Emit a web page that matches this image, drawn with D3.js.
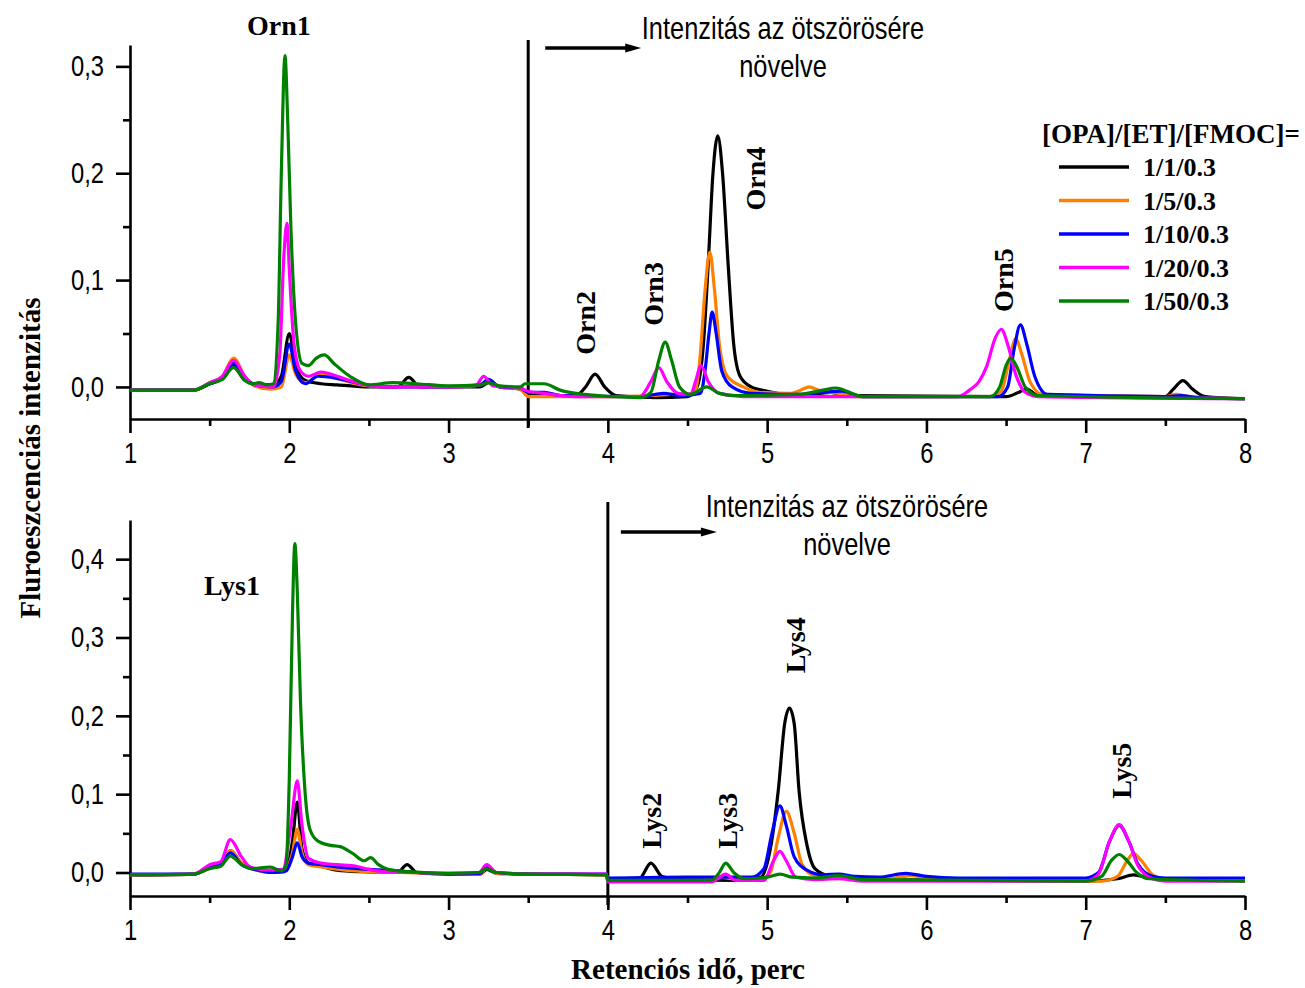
<!DOCTYPE html>
<html>
<head>
<meta charset="utf-8">
<script src="https://cdn.jsdelivr.net/npm/d3@7"></script>
<style>
  body { margin: 0; background: #fff; }
  svg { display: block; }
</style>
</head>
<body>
<script>
// series names and colours (legend order)
const seriesNames = ["1/1/0.3", "1/5/0.3", "1/10/0.3", "1/20/0.3", "1/50/0.3"];
const seriesColors = ["#000000", "#ff7f00", "#0000ff", "#ff00ff", "#008000"];

// x ticks and y ticks
const xTicks = [1, 2, 3, 4, 5, 6, 7, 8];
const xMinorTicks = [1.5, 2.5, 3.5, 4.5, 5.5, 6.5, 7.5];
const yTicksTop = [0, 0.1, 0.2, 0.3];
const yMinorTop = [0.05, 0.15, 0.25];
const yTicksBot = [0, 0.1, 0.2, 0.3, 0.4];
const yMinorBot = [0.05, 0.15, 0.25, 0.35];

// ---- Ornithine chromatograms (time, intensity) ----
const ornBlack = [[1.0,-0.003],[1.4,-0.003],[1.5,0.003],[1.58,0.008],[1.65,0.021],[1.72,0.008],[1.78,0.003],[1.9,0.002],[1.95,0.01],[2.0,0.05],[2.04,0.02],[2.1,0.006],[2.2,0.003],[2.3,0.002],[2.5,0.0],[2.68,0.0],[2.75,0.009],[2.82,0.0],[3.0,0.0],[3.2,0.0],[3.25,0.004],[3.32,0.0],[3.45,-0.002],[3.5,-0.008],[3.8,-0.008],[3.86,0.0],[3.92,0.012],[3.98,0.0],[4.05,-0.008],[4.3,-0.01],[4.5,-0.009],[4.56,0.0],[4.6,0.04],[4.63,0.115],[4.66,0.2],[4.69,0.235],[4.72,0.2],[4.755,0.115],[4.79,0.04],[4.83,0.01],[4.9,0.0],[5.0,-0.004],[5.2,-0.008],[5.4,-0.005],[5.5,-0.008],[6.5,-0.009],[6.58,-0.005],[6.63,-0.002],[6.7,-0.008],[7.5,-0.009],[7.55,-0.002],[7.61,0.006],[7.67,-0.002],[7.75,-0.009],[8.0,-0.011]];
const ornOrange = [[1.0,-0.003],[1.4,-0.003],[1.5,0.004],[1.58,0.01],[1.65,0.027],[1.72,0.01],[1.78,0.001],[1.88,-0.002],[1.95,0.0],[2.0,0.03],[2.04,0.012],[2.1,0.004],[2.2,0.012],[2.3,0.008],[2.45,0.002],[2.6,0.0],[3.0,0.0],[3.2,0.002],[3.25,0.006],[3.32,0.0],[3.45,-0.002],[3.5,-0.009],[4.0,-0.009],[4.3,-0.008],[4.4,-0.007],[4.5,-0.007],[4.55,-0.004],[4.58,0.03],[4.61,0.09],[4.64,0.126],[4.67,0.09],[4.7,0.04],[4.75,0.01],[4.85,0.0],[4.95,-0.005],[5.15,-0.006],[5.21,-0.003],[5.265,0.0],[5.32,-0.003],[5.45,-0.006],[5.55,-0.009],[6.4,-0.009],[6.47,-0.004],[6.52,0.025],[6.56,0.045],[6.6,0.03],[6.65,0.005],[6.73,-0.007],[7.5,-0.009],[7.57,-0.007],[7.65,-0.009],[8.0,-0.011]];
const ornBlue = [[1.0,-0.003],[1.4,-0.003],[1.5,0.003],[1.58,0.008],[1.65,0.022],[1.72,0.008],[1.78,0.002],[1.9,0.0],[1.95,0.005],[2.0,0.04],[2.04,0.015],[2.1,0.003],[2.18,0.01],[2.3,0.008],[2.45,0.003],[2.6,0.0],[3.0,0.0],[3.2,0.002],[3.25,0.007],[3.32,0.0],[3.45,-0.001],[3.5,-0.005],[3.6,-0.005],[3.7,-0.008],[4.2,-0.009],[4.35,-0.006],[4.45,-0.008],[4.58,-0.006],[4.61,0.015],[4.635,0.05],[4.655,0.07],[4.68,0.05],[4.715,0.015],[4.78,0.0],[4.9,-0.006],[5.2,-0.007],[5.35,-0.005],[5.47,-0.004],[5.6,-0.009],[6.45,-0.009],[6.51,0.0],[6.55,0.035],[6.59,0.058],[6.63,0.04],[6.68,0.01],[6.76,-0.007],[7.5,-0.009],[7.6,-0.008],[7.7,-0.01],[8.0,-0.011]];
const ornMagenta = [[1.0,-0.003],[1.4,-0.003],[1.5,0.004],[1.58,0.01],[1.65,0.025],[1.72,0.01],[1.78,0.002],[1.9,0.0],[1.94,0.03],[1.965,0.12],[1.985,0.153],[2.0,0.11],[2.03,0.04],[2.07,0.015],[2.12,0.01],[2.2,0.014],[2.3,0.01],[2.45,0.003],[2.6,0.0],[3.0,0.0],[3.17,0.001],[3.22,0.01],[3.28,0.001],[3.45,-0.001],[3.5,-0.004],[3.6,-0.006],[3.8,-0.009],[4.2,-0.009],[4.27,0.005],[4.32,0.018],[4.37,0.005],[4.44,-0.006],[4.52,-0.007],[4.55,0.005],[4.585,0.02],[4.63,0.005],[4.7,-0.006],[4.85,-0.009],[6.2,-0.009],[6.27,-0.003],[6.33,0.005],[6.38,0.02],[6.43,0.045],[6.47,0.054],[6.51,0.04],[6.56,0.012],[6.62,-0.005],[6.7,-0.009],[8.0,-0.011]];
const ornGreen = [[1.0,-0.003],[1.4,-0.003],[1.5,0.003],[1.58,0.007],[1.65,0.018],[1.72,0.006],[1.77,0.003],[1.81,0.004],[1.86,0.002],[1.9,0.003],[1.93,0.06],[1.95,0.2],[1.973,0.31],[1.99,0.25],[2.01,0.15],[2.04,0.06],[2.08,0.022],[2.12,0.02],[2.17,0.027],[2.22,0.03],[2.28,0.022],[2.38,0.01],[2.5,0.002],[2.65,0.004],[2.8,0.003],[3.0,0.001],[3.2,0.002],[3.25,0.004],[3.32,0.001],[3.45,0.0],[3.48,0.003],[3.55,0.003],[3.6,0.003],[3.7,-0.003],[3.85,-0.007],[4.2,-0.01],[4.27,-0.005],[4.32,0.025],[4.36,0.042],[4.4,0.025],[4.45,0.0],[4.52,-0.007],[4.62,0.0],[4.7,-0.006],[4.8,-0.008],[5.2,-0.007],[5.35,-0.003],[5.43,-0.001],[5.6,-0.009],[6.4,-0.009],[6.46,0.0],[6.5,0.02],[6.53,0.027],[6.57,0.018],[6.62,0.0],[6.7,-0.008],[8.0,-0.011]];

// ---- Lysine chromatograms (time, intensity) ----
const lysBlack = [[1.0,-0.003],[1.4,-0.002],[1.5,0.006],[1.57,0.01],[1.63,0.028],[1.7,0.012],[1.78,0.005],[1.9,0.001],[1.98,0.003],[2.02,0.04],[2.05,0.09],[2.08,0.03],[2.12,0.012],[2.2,0.008],[2.3,0.003],[2.45,0.001],[2.68,0.0],[2.74,0.01],[2.8,0.0],[3.0,-0.002],[3.2,-0.002],[3.24,0.004],[3.3,-0.001],[3.5,-0.002],[3.99,-0.003],[4.0,-0.008],[4.2,-0.007],[4.27,0.012],[4.34,-0.005],[4.45,-0.009],[4.8,-0.01],[4.96,-0.006],[5.02,0.03],[5.07,0.105],[5.11,0.19],[5.14,0.21],[5.17,0.19],[5.2,0.105],[5.25,0.035],[5.3,0.005],[5.4,-0.005],[5.6,-0.009],[7.0,-0.011],[7.2,-0.008],[7.3,-0.003],[7.4,-0.007],[7.5,-0.009],[8.0,-0.01]];
const lysOrange = [[1.0,-0.003],[1.4,-0.002],[1.5,0.005],[1.57,0.01],[1.63,0.028],[1.7,0.012],[1.78,0.004],[1.88,0.0],[1.96,0.0],[2.02,0.025],[2.05,0.055],[2.08,0.025],[2.12,0.01],[2.2,0.007],[2.35,0.003],[2.5,0.001],[2.7,0.0],[3.0,-0.002],[3.2,-0.002],[3.24,0.006],[3.3,-0.001],[3.5,-0.002],[3.99,-0.003],[4.0,-0.01],[4.6,-0.01],[4.7,-0.006],[4.78,-0.008],[4.95,-0.009],[5.02,0.0],[5.07,0.045],[5.12,0.078],[5.17,0.05],[5.22,0.01],[5.3,-0.004],[5.5,-0.008],[5.8,-0.007],[5.9,-0.004],[6.0,-0.007],[6.1,-0.01],[7.1,-0.011],[7.2,-0.005],[7.26,0.015],[7.3,0.024],[7.35,0.015],[7.42,-0.003],[7.5,-0.009],[8.0,-0.01]];
const lysBlue = [[1.0,-0.002],[1.4,-0.002],[1.5,0.006],[1.57,0.01],[1.63,0.025],[1.7,0.01],[1.78,0.004],[1.9,0.0],[1.98,0.002],[2.02,0.02],[2.05,0.038],[2.08,0.02],[2.12,0.012],[2.2,0.01],[2.3,0.007],[2.5,0.004],[2.6,0.003],[2.8,0.0],[3.0,-0.002],[3.2,-0.001],[3.24,0.008],[3.3,0.0],[3.5,-0.002],[3.99,-0.002],[4.0,-0.007],[4.5,-0.006],[4.9,-0.006],[4.98,0.005],[5.03,0.05],[5.08,0.085],[5.12,0.06],[5.17,0.02],[5.25,0.003],[5.35,-0.003],[5.45,-0.002],[5.55,-0.005],[5.7,-0.006],[5.87,-0.001],[6.0,-0.005],[6.2,-0.007],[7.0,-0.007],[7.08,0.0],[7.15,0.04],[7.21,0.06],[7.27,0.04],[7.33,0.01],[7.42,-0.005],[7.5,-0.007],[8.0,-0.007]];
const lysMagenta = [[1.0,-0.003],[1.4,-0.002],[1.5,0.01],[1.57,0.014],[1.63,0.042],[1.7,0.02],[1.76,0.006],[1.88,0.003],[1.96,0.004],[2.01,0.06],[2.05,0.117],[2.08,0.06],[2.12,0.018],[2.2,0.012],[2.3,0.01],[2.42,0.008],[2.5,0.004],[2.6,0.001],[2.8,0.0],[3.0,-0.001],[3.19,0.0],[3.24,0.01],[3.3,0.0],[3.5,-0.002],[3.99,-0.002],[4.0,-0.012],[4.65,-0.012],[4.74,-0.002],[4.8,-0.01],[4.98,-0.01],[5.04,0.015],[5.08,0.027],[5.12,0.015],[5.18,-0.006],[5.3,-0.009],[5.45,-0.008],[5.6,-0.011],[7.0,-0.011],[7.08,-0.002],[7.15,0.04],[7.21,0.061],[7.27,0.04],[7.33,0.008],[7.42,-0.008],[7.5,-0.011],[8.0,-0.011]];
const lysGreen = [[1.0,-0.003],[1.4,-0.002],[1.5,0.005],[1.57,0.008],[1.63,0.021],[1.7,0.01],[1.76,0.005],[1.88,0.007],[1.95,0.002],[1.98,0.01],[2.0,0.12],[2.02,0.33],[2.035,0.42],[2.05,0.36],[2.07,0.22],[2.1,0.1],[2.13,0.055],[2.18,0.04],[2.25,0.035],[2.32,0.033],[2.4,0.024],[2.47,0.015],[2.51,0.019],[2.56,0.01],[2.62,0.004],[2.75,0.001],[3.0,-0.001],[3.19,0.0],[3.24,0.005],[3.3,0.0],[3.5,-0.002],[3.99,-0.003],[4.0,-0.01],[4.65,-0.01],[4.7,0.0],[4.74,0.012],[4.79,0.0],[4.86,-0.008],[5.0,-0.006],[5.08,-0.002],[5.16,-0.006],[5.3,-0.007],[5.45,-0.004],[5.6,-0.009],[7.0,-0.011],[7.1,-0.005],[7.16,0.015],[7.21,0.023],[7.26,0.015],[7.32,0.0],[7.4,-0.008],[8.0,-0.011]];

const ornSeries = [ornBlack, ornOrange, ornBlue, ornMagenta, ornGreen];
const lysSeries = [lysBlack, lysOrange, lysBlue, lysMagenta, lysGreen];

// peak labels: text, time, intensity, rotated?
const ornLabels = [["Orn1", 1.935, 0.339, false], ["Orn2", 3.856, 0.06, true], ["Orn3", 4.283, 0.087, true], ["Orn4", 4.923, 0.195, true], ["Orn5", 6.48, 0.10, true]];
const lysLabels = [["Lys1", 1.64, 0.367, false], ["Lys2", 4.27, 0.066, true], ["Lys3", 4.75, 0.066, true], ["Lys4", 5.175, 0.29, true], ["Lys5", 7.22, 0.13, true]];

const width = 1305, height = 988;
const svg = d3.select("body").append("svg")
  .attr("width", width)
  .attr("height", height);

const serif = "'Liberation Serif', 'Times New Roman', serif";
const sans = "'Liberation Sans', Arial, sans-serif";
const narrow = 0.82; // Arial Narrow look

// condensed sans text, centred at x
function narrowText(parent, x, y, size, txt) {
  parent.append("text")
    .attr("transform", `translate(${x},${y}) scale(${narrow},1)`)
    .attr("text-anchor", "middle")
    .attr("font-family", sans).attr("font-size", size)
    .text(txt);
}

function drawPanel(cfg) {
  const x = d3.scaleLinear().domain([1, 8]).range([130, 1245]);
  const y = d3.scaleLinear().domain(cfg.yDomain).range([cfg.bottom, cfg.top]);
  const g = svg.append("g");

  // x axis: major + minor ticks, pointing down
  const xAxis = g.append("g")
    .attr("transform", `translate(0,${cfg.bottom})`)
    .call(d3.axisBottom(x).tickValues(xTicks).tickSize(14).tickPadding(9).tickFormat(d3.format("d")).tickSizeOuter(0));
  g.append("g")
    .attr("transform", `translate(0,${cfg.bottom})`)
    .call(d3.axisBottom(x).tickValues(xMinorTicks).tickSize(7).tickFormat("").tickSizeOuter(0))
    .select(".domain").remove();

  // y axis
  const yAxis = g.append("g")
    .attr("transform", "translate(130,0)")
    .call(d3.axisLeft(y).tickValues(cfg.yTicks).tickSize(14).tickPadding(12)
      .tickFormat(d => d3.format(".1f")(d).replace(".", ",")).tickSizeOuter(0));
  g.append("g")
    .attr("transform", "translate(130,0)")
    .call(d3.axisLeft(y).tickValues(cfg.yMinor).tickSize(7).tickFormat("").tickSizeOuter(0))
    .select(".domain").remove();

  g.selectAll(".domain, .tick line").attr("stroke", "#000").attr("stroke-width", 2.6);
  g.selectAll(".tick text").attr("font-family", sans).attr("font-size", 29).attr("fill", "#000");
  xAxis.selectAll(".tick text").attr("transform", `scale(${narrow},1)`);
  yAxis.selectAll(".tick text")
    .attr("x", -26 / narrow)
    .attr("transform", `scale(${narrow},1)`);

  // "intensity ×5" divider
  g.append("line")
    .attr("x1", x(cfg.split)).attr("x2", x(cfg.split))
    .attr("y1", cfg.splitTop).attr("y2", cfg.bottom + 9)
    .attr("stroke", "#000").attr("stroke-width", 3);

  // chromatogram lines
  const line = d3.line()
    .x(d => x(d[0]))
    .y(d => y(d[1]))
    .curve(d3.curveMonotoneX);
  cfg.series.forEach((s, i) => {
    g.append("path")
      .datum(s)
      .attr("fill", "none")
      .attr("stroke", seriesColors[i])
      .attr("stroke-width", 3.2)
      .attr("stroke-linejoin", "round")
      .attr("d", line);
  });

  // arrow + note
  const ax = x(cfg.split) + cfg.arrowDx;
  g.append("line")
    .attr("x1", ax).attr("x2", ax + 82)
    .attr("y1", cfg.arrowY).attr("y2", cfg.arrowY)
    .attr("stroke", "#000").attr("stroke-width", 3.5);
  g.append("path")
    .attr("d", `M${ax + 80},${cfg.arrowY - 4.5} L${ax + 96},${cfg.arrowY} L${ax + 80},${cfg.arrowY + 4.5} Z`)
    .attr("fill", "#000");
  narrowText(g, cfg.noteX, cfg.noteY, 31, "Intenzitás az ötszörösére");
  narrowText(g, cfg.noteX, cfg.noteY + 38, 31, "növelve");

  // peak labels
  cfg.labels.forEach(([txt, t, v, rot]) => {
    const px = x(t), py = y(v);
    g.append("text")
      .attr("transform", rot ? `translate(${px},${py}) rotate(-90)` : `translate(${px},${py})`)
      .attr("text-anchor", "middle")
      .attr("dy", "0.35em")
      .attr("font-family", serif).attr("font-weight", "bold").attr("font-size", 28)
      .text(txt);
  });
  return { x, y };
}

drawPanel({
  yDomain: [-0.03, 0.32], top: 45, bottom: 419,
  yTicks: yTicksTop, yMinor: yMinorTop,
  split: 3.5, splitTop: 40,
  series: ornSeries, labels: ornLabels,
  arrowDx: 17, arrowY: 48, noteX: 783, noteY: 39
});

drawPanel({
  yDomain: [-0.03, 0.45], top: 520, bottom: 896,
  yTicks: yTicksBot, yMinor: yMinorBot,
  split: 4, splitTop: 502,
  series: lysSeries, labels: lysLabels,
  arrowDx: 13, arrowY: 532, noteX: 847, noteY: 517
});

// legend
const legend = svg.append("g");
legend.append("text")
  .attr("x", 1042).attr("y", 143)
  .attr("font-family", serif).attr("font-weight", "bold").attr("font-size", 27)
  .text("[OPA]/[ET]/[FMOC]=");
seriesNames.forEach((name, i) => {
  const ly = 167 + i * 33.5;
  legend.append("line")
    .attr("x1", 1059).attr("x2", 1129)
    .attr("y1", ly).attr("y2", ly)
    .attr("stroke", seriesColors[i]).attr("stroke-width", 3.5);
  legend.append("text")
    .attr("x", 1143).attr("y", ly + 9)
    .attr("font-family", serif).attr("font-weight", "bold").attr("font-size", 26)
    .text(name);
});

// axis titles
svg.append("text")
  .attr("transform", "translate(40,458) rotate(-90)")
  .attr("text-anchor", "middle")
  .attr("font-family", serif).attr("font-weight", "bold").attr("font-size", 29)
  .text("Fluroeszcenciás intenzitás");
svg.append("text")
  .attr("x", 688).attr("y", 979)
  .attr("text-anchor", "middle")
  .attr("font-family", serif).attr("font-weight", "bold").attr("font-size", 29)
  .text("Retenciós idő, perc");
</script>
</body>
</html>
